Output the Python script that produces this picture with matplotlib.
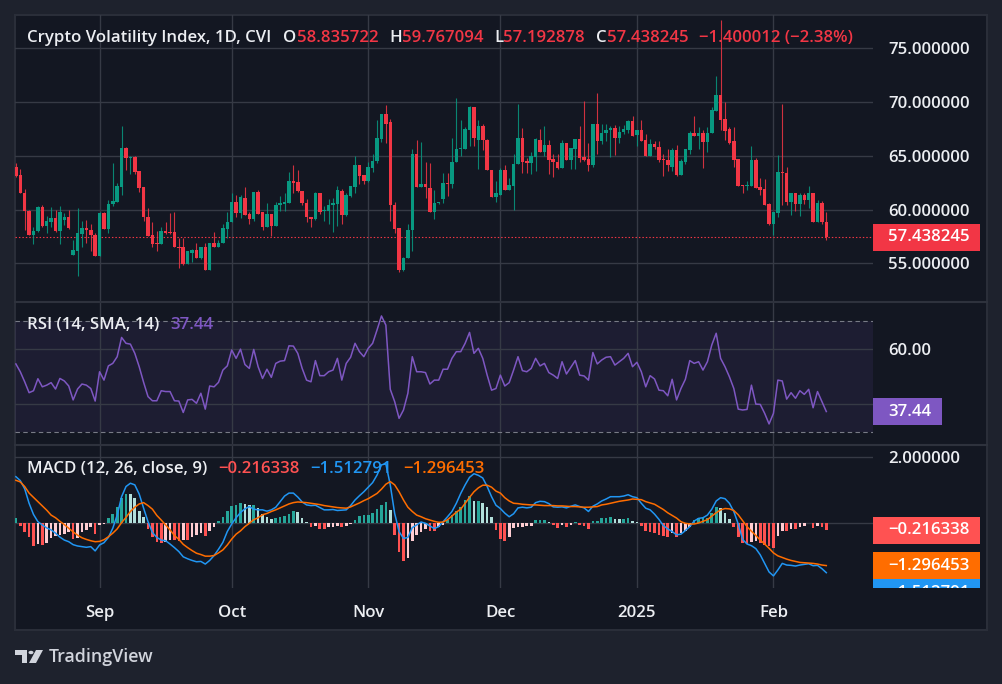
import matplotlib
matplotlib.use('Agg')
import matplotlib.pyplot as plt
import matplotlib.dates as mdates
import numpy as np
import pandas as pd
from matplotlib.patches import Rectangle, Circle, Polygon
from matplotlib.lines import Line2D

# daily candles of CVI, 2024-08-13 .. 2025-02-13
start_day = '2024-08-13'
open_ = [64.0, 63.2, 61.5, 59.9, 57.6, 58.0, 60.2, 58.5, 58.8, 59.2,
         58.0, 59.0, 59.3, 55.8, 56.1, 57.7, 58.3, 58.1, 57.6, 55.7,
         59.7, 58.2, 60.5, 60.7, 62.1, 65.7, 64.8, 64.9, 63.6, 62.1,
         59.3, 57.6, 56.8, 56.8, 58.0, 57.9, 57.9, 56.5, 56.5, 54.9,
         56.0, 56.2, 55.5, 56.5, 54.4, 56.9, 56.5, 56.9, 58.2, 58.8,
         60.7, 59.7, 61.1, 59.6, 59.1, 61.6, 59.8, 58.4, 59.6, 58.5,
         60.4, 60.5, 60.6, 62.7, 62.6, 61.7, 60.6, 59.3, 59.1, 61.5,
         59.9, 59.9, 60.4, 60.5, 61.7, 59.5, 61.3, 62.1, 64.1, 63.2,
         62.7, 63.9, 64.5, 66.6, 68.9, 68.1, 60.4, 58.3, 54.4, 55.5,
         58.1, 65.2, 62.1, 62.4, 62.0, 59.8, 60.6, 61.0, 62.5, 62.4,
         64.4, 65.6, 65.6, 67.4, 69.5, 66.5, 67.8, 66.5, 63.7, 61.2,
         61.4, 63.7, 61.8, 62.2, 64.2, 66.7, 64.5, 64.3, 64.9, 66.5,
         65.4, 66.0, 64.7, 64.4, 63.9, 66.2, 64.6, 65.6, 66.6, 64.9,
         64.7, 64.1, 68.0, 66.4, 67.1, 67.4, 67.6, 66.7, 67.2, 67.4,
         68.2, 66.9, 67.4, 66.5, 65.0, 66.1, 65.8, 64.7, 64.6, 64.0,
         65.5, 63.2, 64.4, 65.5, 67.1, 66.8, 67.1, 66.3, 67.1, 69.2,
         70.7, 68.4, 67.5, 66.4, 64.7, 62.3, 62.2, 62.2, 64.6, 62.1,
         61.9, 60.5, 58.7, 59.7, 63.5, 63.4, 60.7, 61.5, 60.5, 61.4,
         60.9, 61.5, 58.8, 60.6, 58.835722]
high_ = [64.3, 63.8, 61.9, 60.0, 58.4, 60.3, 60.4, 59.4, 60.2, 60.0,
         60.3, 59.7, 60.0, 57.2, 60.1, 58.9, 59.0, 58.7, 57.8, 59.8,
         59.8, 60.9, 64.3, 62.5, 67.8, 65.8, 65.0, 65.0, 63.6, 62.1,
         60.1, 58.8, 58.0, 58.4, 58.8, 59.7, 59.8, 57.4, 57.4, 56.1,
         56.3, 56.9, 56.5, 56.9, 56.9, 57.9, 57.2, 58.7, 59.8, 61.5,
         61.4, 61.4, 62.1, 59.8, 61.6, 61.8, 59.8, 60.6, 59.6, 60.7,
         61.3, 61.5, 63.5, 64.1, 63.7, 61.7, 61.0, 59.3, 61.6, 61.5,
         60.3, 61.0, 61.1, 62.2, 61.9, 61.5, 62.2, 65.0, 64.1, 63.2,
         64.4, 65.2, 68.3, 68.9, 69.7, 68.4, 60.7, 58.3, 55.6, 58.7,
         65.6, 66.5, 66.3, 64.4, 64.3, 61.8, 60.7, 63.4, 63.4, 66.7,
         70.4, 68.3, 67.7, 69.6, 69.5, 68.3, 68.0, 66.6, 63.7, 62.7,
         63.9, 64.1, 62.9, 65.2, 69.8, 67.6, 64.8, 65.4, 66.7, 67.5,
         67.8, 66.5, 65.2, 65.2, 66.5, 66.2, 65.7, 66.6, 67.8, 70.1,
         66.2, 68.0, 70.8, 68.0, 68.0, 67.8, 67.9, 67.8, 67.9, 68.3,
         68.7, 67.4, 68.3, 67.0, 66.6, 66.4, 66.4, 65.2, 65.6, 65.7,
         66.0, 64.7, 65.6, 67.3, 68.7, 67.7, 67.4, 67.7, 69.5, 72.4,
         77.6, 70.0, 67.7, 67.7, 64.7, 62.3, 62.7, 65.9, 64.8, 62.9,
         62.8, 60.6, 59.8, 65.1, 69.8, 64.0, 61.5, 61.5, 61.5, 61.5,
         62.2, 61.5, 60.9, 60.8, 59.767094]
low_ = [63.0, 61.5, 58.1, 57.6, 56.8, 57.9, 58.4, 57.8, 58.4, 57.9,
        56.8, 58.6, 58.2, 55.8, 53.8, 56.5, 56.9, 56.1, 55.7, 55.7,
        58.2, 57.8, 60.3, 60.7, 61.4, 63.7, 63.3, 63.3, 61.6, 58.9,
        57.5, 56.5, 56.1, 56.8, 57.7, 57.7, 56.5, 54.6, 54.8, 54.9,
        55.1, 55.5, 55.4, 54.4, 54.4, 56.5, 56.5, 56.9, 57.4, 58.8,
        59.3, 59.2, 59.5, 58.7, 58.9, 59.6, 58.1, 58.4, 57.5, 58.5,
        59.9, 59.9, 60.6, 61.5, 61.6, 60.4, 58.8, 58.4, 59.0, 59.6,
        58.9, 58.7, 57.9, 58.5, 58.7, 59.4, 61.2, 61.5, 62.4, 62.4,
        62.6, 63.5, 64.3, 66.3, 66.2, 58.9, 57.8, 54.2, 54.3, 55.5,
        56.1, 62.1, 62.1, 61.1, 59.8, 59.1, 60.5, 60.6, 61.3, 62.0,
        64.4, 65.0, 65.6, 65.9, 65.9, 63.8, 65.5, 63.7, 61.2, 60.7,
        61.4, 61.8, 61.8, 60.0, 64.2, 63.4, 63.4, 63.3, 63.6, 65.4,
        65.0, 63.3, 63.0, 63.8, 63.9, 64.6, 63.8, 63.8, 64.4, 64.5,
        63.6, 64.0, 65.2, 66.1, 66.4, 64.9, 65.1, 66.2, 67.0, 67.1,
        66.8, 65.9, 66.4, 65.0, 65.0, 65.6, 64.4, 63.1, 63.6, 63.6,
        63.1, 63.2, 64.2, 65.2, 66.8, 65.6, 63.9, 65.4, 67.1, 69.2,
        67.4, 66.5, 66.1, 64.0, 62.2, 61.5, 61.8, 62.2, 62.0, 61.4,
        60.4, 58.6, 57.6, 59.3, 60.4, 60.4, 59.5, 59.9, 59.4, 60.5,
        60.1, 58.8, 58.8, 58.7, 57.192878]
close_ = [63.1, 61.5, 59.9, 57.6, 58.0, 60.2, 58.5, 58.9, 59.2, 58.0,
          59.8, 59.3, 58.3, 56.2, 57.8, 58.3, 58.1, 57.6, 55.7, 59.7,
          58.2, 60.5, 60.8, 62.2, 65.7, 64.8, 64.9, 63.5, 62.0, 59.3,
          57.5, 56.8, 56.75, 58.0, 57.8, 57.8, 56.5, 56.45, 54.9, 56.1,
          56.2, 55.5, 56.5, 54.4, 56.9, 56.5, 56.9, 58.3, 58.8, 60.7,
          59.7, 61.2, 59.5, 59.1, 61.6, 59.6, 58.4, 59.6, 58.5, 60.4,
          60.6, 60.7, 62.7, 62.5, 61.7, 60.6, 59.3, 59.1, 61.5, 59.8,
          60.0, 60.4, 60.6, 61.8, 59.5, 61.4, 62.2, 64.1, 63.1, 62.7,
          64.0, 64.5, 66.7, 68.9, 68.0, 60.4, 58.2, 54.4, 55.5, 58.1,
          65.2, 62.1, 62.4, 62.1, 59.8, 60.6, 60.65, 62.5, 62.4, 64.4,
          65.6, 65.7, 67.5, 69.5, 66.7, 67.8, 66.5, 63.7, 61.2, 61.5,
          63.7, 61.8, 62.3, 64.2, 66.7, 64.4, 64.3, 65.0, 66.6, 65.4,
          66.0, 64.6, 64.4, 63.9, 66.2, 64.6, 65.7, 66.6, 64.8, 64.6,
          64.1, 68.0, 66.4, 67.1, 67.4, 67.6, 66.7, 67.2, 67.5, 68.2,
          66.8, 67.4, 66.4, 65.0, 66.1, 65.8, 64.6, 64.6, 64.1, 65.5,
          63.2, 64.5, 65.6, 67.1, 66.8, 67.1, 66.3, 67.1, 69.3, 70.7,
          68.3, 67.3, 66.2, 64.6, 62.2, 62.2, 62.3, 64.6, 62.0, 61.8,
          60.4, 58.7, 59.8, 63.5, 63.4, 60.7, 61.5, 60.5, 61.4, 60.9,
          61.5, 58.8, 60.6, 58.838257, 57.438245]

rsi = [54.5, 51.7, 48.1, 44.2, 44.9, 49.2, 46.3, 46.9, 47.8, 45.5,
       49.3, 48.4, 46.6, 41.6, 45.5, 47.3, 46.9, 45.7, 41.2, 51.7,
       48.7, 53.8, 54.7, 57.1, 64.0, 61.9, 61.6, 58.3, 53.5, 47.9,
       42.8, 41.3, 41.3, 44.9, 44.6, 44.6, 41.3, 41.2, 37.1, 41.6,
       41.8, 40.4, 44.0, 38.3, 46.6, 46.3, 47.9, 52.3, 53.8, 59.5,
       56.5, 59.8, 54.3, 52.9, 59.7, 53.5, 49.3, 52.6, 49.7, 54.7,
       55.5, 55.7, 61.0, 60.9, 58.3, 52.9, 48.7, 48.1, 55.7, 50.3,
       50.3, 51.7, 52.3, 56.5, 48.7, 54.7, 56.9, 61.9, 58.9, 57.1,
       60.1, 61.9, 66.7, 71.7, 68.4, 45.4, 41.0, 35.0, 38.0, 44.0,
       57.1, 51.7, 51.7, 51.4, 47.3, 48.7, 48.7, 52.6, 52.6, 56.5,
       58.9, 58.9, 61.9, 65.8, 58.3, 60.1, 56.5, 50.5, 45.1, 45.7,
       50.5, 46.6, 47.8, 52.3, 57.1, 52.1, 51.7, 52.9, 56.5, 53.8,
       54.7, 51.4, 50.5, 49.3, 55.3, 50.9, 53.3, 55.7, 50.5, 50.2,
       48.7, 58.6, 54.5, 55.9, 56.9, 57.1, 54.1, 55.3, 56.5, 58.3,
       53.5, 55.1, 51.7, 46.3, 50.3, 49.1, 45.1, 44.9, 43.1, 49.0,
       41.6, 45.7, 49.0, 55.7, 54.7, 55.3, 52.3, 55.3, 61.3, 65.5,
       56.5, 53.5, 49.9, 45.7, 38.3, 38.0, 38.2, 46.9, 40.1, 40.0,
       36.8, 33.0, 36.8, 48.7, 48.4, 41.9, 44.2, 42.2, 44.9, 43.6,
       45.4, 38.8, 44.6, 41.0, 37.44]

macd = [1.41, 1.29, 1.04, 0.60, 0.26, 0.04, -0.06, -0.15, -0.21, -0.31,
        -0.43, -0.52, -0.57, -0.66, -0.70, -0.72, -0.74, -0.72, -0.85, -0.67,
        -0.60, -0.44, -0.16, 0.24, 0.80, 1.11, 1.21, 1.16, 0.88, 0.45,
        0.04, -0.29, -0.44, -0.52, -0.54, -0.64, -0.75, -0.87, -1.03, -1.09,
        -1.14, -1.18, -1.17, -1.25, -1.14, -0.99, -0.80, -0.59, -0.26, -0.03,
        0.16, 0.32, 0.43, 0.50, 0.42, 0.40, 0.40, 0.36, 0.40, 0.48,
        0.65, 0.82, 0.91, 0.91, 0.79, 0.64, 0.55, 0.53, 0.54, 0.47,
        0.40, 0.40, 0.41, 0.38, 0.39, 0.40, 0.53, 0.70, 0.83, 0.95,
        1.09, 1.23, 1.46, 1.77, 1.80, 1.16, 0.29, -0.26, -0.47, -0.44,
        -0.14, -0.06, 0.03, -0.01, -0.09, -0.17, -0.11, 0.04, 0.19, 0.35,
        0.60, 0.90, 1.16, 1.39, 1.50, 1.45, 1.37, 1.11, 0.80, 0.54,
        0.44, 0.30, 0.19, 0.28, 0.46, 0.48, 0.46, 0.48, 0.62, 0.66,
        0.65, 0.59, 0.49, 0.48, 0.49, 0.46, 0.51, 0.55, 0.50, 0.46,
        0.35, 0.51, 0.58, 0.67, 0.73, 0.80, 0.80, 0.80, 0.82, 0.86,
        0.80, 0.77, 0.60, 0.45, 0.40, 0.27, 0.11, -0.08, -0.18, -0.26,
        -0.36, -0.34, -0.23, -0.11, 0.06, 0.14, 0.16, 0.24, 0.42, 0.67,
        0.77, 0.74, 0.60, 0.35, -0.03, -0.50, -0.64, -0.69, -0.78, -0.97,
        -1.23, -1.49, -1.61, -1.43, -1.23, -1.28, -1.29, -1.31, -1.28, -1.26,
        -1.24, -1.30, -1.29, -1.39, -1.512791]

signal = [1.30, 1.25, 1.11, 0.91, 0.78, 0.65, 0.52, 0.39, 0.24, 0.16,
          0.05, -0.05, -0.16, -0.27, -0.37, -0.45, -0.50, -0.54, -0.57, -0.56,
          -0.51, -0.42, -0.31, -0.18, 0.01, 0.17, 0.35, 0.48, 0.58, 0.62,
          0.53, 0.42, 0.23, 0.09, -0.06, -0.21, -0.38, -0.50, -0.65, -0.75,
          -0.84, -0.92, -0.96, -1.01, -1.01, -0.99, -0.91, -0.82, -0.67, -0.49,
          -0.34, -0.24, -0.11, -0.01, 0.10, 0.16, 0.25, 0.29, 0.35, 0.40,
          0.46, 0.52, 0.58, 0.62, 0.64, 0.63, 0.62, 0.60, 0.58, 0.56,
          0.53, 0.51, 0.49, 0.47, 0.46, 0.45, 0.49, 0.55, 0.61, 0.68,
          0.74, 0.82, 0.90, 1.03, 1.18, 1.26, 1.16, 0.95, 0.70, 0.48,
          0.35, 0.24, 0.19, 0.13, 0.09, 0.05, 0.02, 0.03, 0.10, 0.21,
          0.33, 0.42, 0.60, 0.78, 0.95, 1.07, 1.15, 1.15, 1.09, 0.97,
          0.91, 0.77, 0.67, 0.60, 0.59, 0.57, 0.56, 0.55, 0.55, 0.54,
          0.53, 0.53, 0.53, 0.52, 0.52, 0.51, 0.50, 0.50, 0.49, 0.48,
          0.48, 0.49, 0.50, 0.55, 0.57, 0.60, 0.63, 0.66, 0.68, 0.70,
          0.73, 0.72, 0.71, 0.65, 0.61, 0.57, 0.49, 0.41, 0.31, 0.23,
          0.15, 0.04, -0.01, -0.03, -0.03, 0.00, 0.05, 0.10, 0.21, 0.31,
          0.40, 0.44, 0.43, 0.38, 0.25, 0.07, -0.11, -0.25, -0.38, -0.52,
          -0.64, -0.77, -0.91, -1.00, -1.05, -1.10, -1.14, -1.17, -1.20, -1.21,
          -1.22, -1.23, -1.25, -1.28, -1.296453]

hist = [0.14, -0.09, -0.26, -0.44, -0.69, -0.65, -0.67, -0.60, -0.47, -0.39,
        -0.37, -0.34, -0.26, -0.50, -0.45, -0.26, -0.21, -0.13, -0.34, -0.06,
        -0.03, 0.14, 0.27, 0.48, 0.75, 0.88, 0.87, 0.75, 0.38, 0.17,
        -0.18, -0.44, -0.59, -0.60, -0.57, -0.52, -0.52, -0.54, -0.52, -0.52,
        -0.44, -0.37, -0.31, -0.40, -0.23, -0.13, 0.07, 0.19, 0.35, 0.53,
        0.55, 0.62, 0.58, 0.55, 0.55, 0.45, 0.27, 0.19, 0.12, 0.16,
        0.17, 0.21, 0.27, 0.37, 0.32, 0.14, 0.02, -0.13, -0.09, -0.17,
        -0.18, -0.13, -0.11, -0.08, -0.13, -0.08, -0.03, 0.09, 0.22, 0.24,
        0.24, 0.29, 0.42, 0.55, 0.65, 0.40, -0.37, -0.89, -1.16, -1.08,
        -0.54, -0.37, -0.26, -0.18, -0.24, -0.24, -0.13, -0.06, 0.09, 0.24,
        0.37, 0.48, 0.70, 0.83, 0.68, 0.68, 0.62, 0.50, 0.17, -0.21,
        -0.50, -0.54, -0.42, -0.16, -0.13, -0.11, -0.09, -0.08, 0.09, 0.09,
        0.09, 0.04, -0.06, -0.14, -0.06, -0.11, -0.06, 0.03, -0.06, -0.09,
        -0.18, 0.07, 0.07, 0.14, 0.16, 0.19, 0.12, 0.11, 0.11, 0.14,
        0.07, 0.04, -0.09, -0.23, -0.26, -0.29, -0.37, -0.40, -0.44, -0.31,
        -0.44, -0.31, -0.23, -0.11, 0.09, 0.14, 0.14, 0.14, 0.29, 0.48,
        0.45, 0.29, 0.12, -0.13, -0.44, -0.62, -0.65, -0.59, -0.54, -0.62,
        -0.67, -0.70, -0.77, -0.40, -0.23, -0.24, -0.18, -0.18, -0.11, -0.09,
        0.01, -0.14, -0.09, -0.13, -0.216338]

month_ticks = ['2024-09-01', '2024-10-01', '2024-11-01', '2024-12-01', '2025-01-01', '2025-02-01']
month_labels = ['Sep', 'Oct', 'Nov', 'Dec', '2025', 'Feb']
price_ticks = [55, 60, 65, 70, 75]

W, H = 1002, 684
OUTER = '#1e222d'
BG = '#131722'
GRID = '#363a45'
TXT = '#eceef2'
UP = '#089981'
DOWN = '#f23645'
PURPLE = '#7e57c2'
BLUE = '#2196f3'
ORANGE = '#ff6d00'
FS = 12.1
FW = 'semibold'

plt.rcParams['font.family'] = ['Open Sans', 'DejaVu Sans']
plt.rcParams['font.weight'] = FW

fig = plt.figure(figsize=(W / 100, H / 100), dpi=100, facecolor=OUTER)


def px_axes(x0, y0, x1, y1, **kw):
    return fig.add_axes([x0 / W, 1 - y1 / H, (x1 - x0) / W, (y1 - y0) / H], **kw)


# chart frame, behind everything
fig.patches.append(Rectangle((15 / W, 1 - 630 / H), 972 / W, 615 / H, transform=fig.transFigure,
                             facecolor=BG, edgecolor='#2a2e39', lw=1.5, zorder=-5))

o = np.array(open_)
h = np.array(high_)
l = np.array(low_)
c = np.array(close_)
dates = pd.date_range(start_day, periods=len(c), freq='D')
x = mdates.date2num(dates)
mt = mdates.date2num(pd.to_datetime(month_ticks))

ax_p = px_axes(15, 15, 873, 302)
ax_r = px_axes(15, 302, 873, 445, sharex=ax_p)
ax_m = px_axes(15, 445, 873, 588, sharex=ax_p)

for ax in (ax_p, ax_r, ax_m):
    ax.set_facecolor('none')
    for s in ax.spines.values():
        s.set_visible(False)
    ax.yaxis.tick_right()
    ax.tick_params(axis='both', length=0, labelsize=FS, labelcolor=TXT)
    ax.tick_params(axis='y', pad=10.8)
    ax.set_xticks(mt)
    ax.grid(True, color=GRID, lw=1.0)
    ax.set_axisbelow(True)

ax_p.set_xlim(x[0] - 0.2, x[0] + 194.6)
ax_p.tick_params(axis='x', labelbottom=False)
ax_r.tick_params(axis='x', labelbottom=False)
ax_m.set_xticklabels(month_labels)
ax_m.tick_params(axis='x', pad=12)

# price pane
ax_p.set_ylim(51.40, 78.10)
ax_p.set_yticks(price_ticks)
ax_p.set_yticklabels([f'{v:.6f}' for v in price_ticks])
col = np.where(c >= o, UP, DOWN)
ax_p.vlines(x, l, h, colors=col, lw=0.8, alpha=0.85, zorder=2)
ax_p.bar(x, np.maximum(np.abs(c - o), 0.1), bottom=np.minimum(o, c), width=0.8,
         color=col, lw=0, zorder=3)
ax_p.axhline(c[-1], color=DOWN, lw=0.8, ls=(0, (1.3, 1.8)), zorder=1)

# RSI pane (the 40 label sits under the value box, so only its grid line shows)
ax_r.set_ylim(25.45, 76.70)
ax_r.set_yticks([40, 60])
ax_r.set_yticklabels(['', '60.00'])
ax_r.axhspan(30, 70, color=PURPLE, alpha=0.1, lw=0, zorder=0)
ax_r.axhline(70, color='#787b86', lw=0.8, ls=(0, (4, 3)), zorder=1)
ax_r.axhline(30, color='#787b86', lw=0.8, ls=(0, (4, 3)), zorder=1)
ax_r.plot(x, rsi, color=PURPLE, lw=1.1, zorder=3)

# MACD pane
ax_m.set_ylim(-1.979, 2.374)
ax_m.set_yticks([0, 2])
ax_m.set_yticklabels(['', '2.000000'])
hcol = []
for i, v in enumerate(hist):
    prev = hist[i - 1] if i > 0 else v
    if v >= 0:
        hcol.append('#26a69a' if v >= prev else '#b2dfdb')
    else:
        hcol.append('#ffcdd2' if v > prev else '#ff5252')
ax_m.bar(x, hist, width=0.6, color=hcol, lw=0, zorder=2)
ax_m.plot(x, macd, color=BLUE, lw=1.1, zorder=3)
ax_m.plot(x, signal, color=ORANGE, lw=1.1, zorder=4)


# value boxes on the right scale
def side(ax, y0, y1):
    s = px_axes(873, y0, 987, y1, sharey=ax)
    s.set_axis_off()
    s.set_xlim(0, 114)
    return s


def box(s, ax, v, txt, fc, w=107, dy=0.0):
    ppu = ax.bbox.height / (ax.get_ylim()[1] - ax.get_ylim()[0])
    hh = 13.5 / ppu
    yc = v - dy * 2 * hh
    s.add_patch(Rectangle((0, yc - hh), w, 2 * hh, facecolor=fc, lw=0, zorder=5))
    s.text(15, yc, txt, color='white', fontsize=FS, va='center', ha='left', clip_on=True, zorder=6)


def fmt(v):
    return f'{v:.6f}'.replace('-', '\u2212')


sp = side(ax_p, 15, 302)
box(sp, ax_p, c[-1], f'{c[-1]:.6f}', DOWN)
sr = side(ax_r, 302, 445)
box(sr, ax_r, rsi[-1], f'{rsi[-1]:.2f}', PURPLE, w=69)
sm = side(ax_m, 445, 588)
box(sm, ax_m, hist[-1], fmt(hist[-1]), '#ff5252')
box(sm, ax_m, signal[-1], fmt(signal[-1]), ORANGE)
box(sm, ax_m, signal[-1], fmt(macd[-1]), BLUE, dy=1.0)

# pane separators
for yy in (302, 445):
    fig.add_artist(Line2D([15 / W, 987 / W], [1 - yy / H, 1 - yy / H], color='#2e323d', lw=1.5))

# legends
rend = fig.canvas.get_renderer()


def legend_row(y, parts, x0=27):
    xx = x0
    for s, cc, gap in parts:
        t = fig.text(xx / W, 1 - y / H, s, color=cc, fontsize=FS, va='center', ha='left')
        xx += t.get_window_extent(rend).width + gap


chg = c[-1] - c[-2]
legend_row(38, [('Crypto Volatility Index, 1D, CVI', TXT, 12),
                ('O', TXT, 0), (fmt(o[-1]), DOWN, 11),
                ('H', TXT, 0), (fmt(h[-1]), DOWN, 11),
                ('L', TXT, 0), (fmt(l[-1]), DOWN, 11),
                ('C', TXT, 0), (fmt(c[-1]), DOWN, 11),
                (f'{fmt(chg)} ({chg / c[-2] * 100:.2f}%)'.replace('-', '\u2212'), DOWN, 0)])
legend_row(325, [('RSI (14, SMA, 14)', TXT, 11), (f'{rsi[-1]:.2f}', PURPLE, 0)])
legend_row(469, [('MACD (12, 26, close, 9)', TXT, 11), (fmt(hist[-1]), '#ff5252', 11),
                 (fmt(macd[-1]), BLUE, 11), (fmt(signal[-1]), ORANGE, 0)])

# TradingView logo
LOGO = '#d1d4dc'


def fp(px, py):
    return (px / W, 1 - py / H)


fig.patches.append(Polygon([fp(15, 650), fp(27, 650), fp(27, 663), fp(22, 663), fp(22, 655), fp(15, 655)],
                           closed=True, transform=fig.transFigure, facecolor=LOGO, lw=0))
fig.patches.append(Circle(fp(31, 652.5), 2.5 / W, transform=fig.transFigure, facecolor=LOGO, lw=0))
fig.patches.append(Polygon([fp(36, 650), fp(43, 650), fp(36, 663), fp(29, 663)],
                           closed=True, transform=fig.transFigure, facecolor=LOGO, lw=0))
fig.text(49 / W, 1 - 657 / H, 'TradingView', color=LOGO, fontsize=12.8, va='center', ha='left')

fig.savefig('out.png', dpi=100, facecolor=OUTER)
